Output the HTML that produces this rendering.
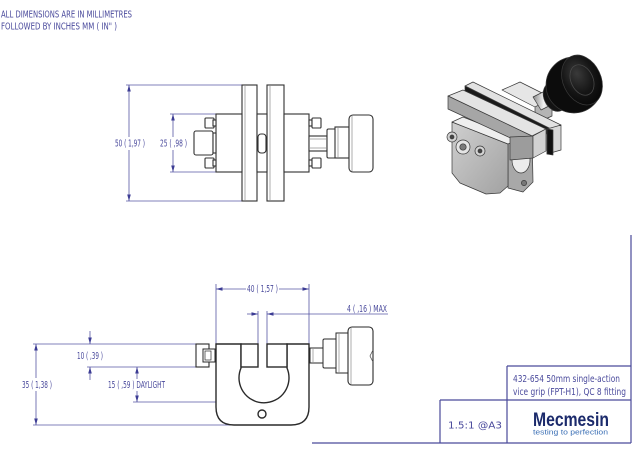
<!DOCTYPE html>
<html><head><meta charset="utf-8"><style>
html,body{margin:0;padding:0;background:#fff;}
svg{display:block;}
.d{stroke:#5656a4;stroke-width:0.8;fill:none}
.ar{fill:#3c3c94;stroke:none}
.t{font-family:"DejaVu Sans Condensed","Liberation Sans",sans-serif;fill:#4a4a9c;font-size:9.5px}
.o{stroke:#303030;stroke-width:1.1;fill:#fff}
.g{stroke:#9a9a9a;stroke-width:0.8;fill:none}
.tb{stroke:#4a4a9a;stroke-width:1.2;fill:none}
</style></head><body>
<svg width="640" height="460" viewBox="0 0 640 460" xmlns="http://www.w3.org/2000/svg">
<defs>
<radialGradient id="kn" cx="0.45" cy="0.35" r="0.7">
<stop offset="0" stop-color="#3a3a3a"/><stop offset="0.55" stop-color="#161616"/><stop offset="1" stop-color="#060606"/>
</radialGradient>
<linearGradient id="ff" x1="0" y1="0" x2="1" y2="1">
<stop offset="0" stop-color="#cfcfcf"/><stop offset="1" stop-color="#a2a2a2"/>
</linearGradient>
<linearGradient id="sh" x1="0" y1="0" x2="1" y2="0">
<stop offset="0" stop-color="#8a8a8a"/><stop offset="0.5" stop-color="#f4f4f4"/><stop offset="1" stop-color="#8a8a8a"/>
</linearGradient>
</defs>

<!-- header -->
<text class="t" x="1" y="17.5" font-size="10.5" textLength="131" lengthAdjust="spacingAndGlyphs" fill="#50509e">ALL DIMENSIONS ARE IN MILLIMETRES</text>
<text class="t" x="1" y="29.3" font-size="10.5" textLength="116" lengthAdjust="spacingAndGlyphs" fill="#50509e">FOLLOWED BY INCHES MM ( IN" )</text>

<!-- ============ TOP VIEW ============ -->
<line class="d" x1="126" y1="85" x2="242" y2="85"/>
<line class="d" x1="126" y1="201" x2="242" y2="201"/>
<line class="d" x1="170" y1="114" x2="216" y2="114"/>
<line class="d" x1="170" y1="172" x2="216" y2="172"/>
<line class="d" x1="129" y1="85" x2="129" y2="137"/>
<line class="d" x1="129" y1="150" x2="129" y2="201"/>
<polygon class="ar" points="129,85 127.2,91.5 130.8,91.5"/>
<polygon class="ar" points="129,201 127.2,194.5 130.8,194.5"/>
<text class="t" x="115" y="146.7" textLength="30" lengthAdjust="spacingAndGlyphs">50 ( 1,97 )</text>
<line class="d" x1="173" y1="114" x2="173" y2="137"/>
<line class="d" x1="173" y1="150" x2="173" y2="172"/>
<polygon class="ar" points="173,114 171.2,120.5 174.8,120.5"/>
<polygon class="ar" points="173,172 171.2,165.5 174.8,165.5"/>
<text class="t" x="160" y="146.7" textLength="27" lengthAdjust="spacingAndGlyphs">25 ( ,98 )</text>

<rect class="o" x="242" y="85" width="15" height="116"/>
<line class="g" x1="245" y1="86" x2="245" y2="200"/>
<rect class="o" x="267" y="85" width="17" height="116"/>
<line class="g" x1="270" y1="86" x2="270" y2="200"/>
<rect class="o" x="216" y="114" width="26" height="58"/>
<rect class="o" x="284" y="114" width="25" height="58"/>
<rect class="o" x="257" y="114" width="10" height="58"/>
<rect class="o" x="258" y="134" width="8" height="19" rx="3"/>
<rect class="o" x="194" y="131" width="19" height="24" rx="2"/>
<rect class="o" x="213" y="133" width="3" height="20"/>
<rect class="o" x="205" y="118" width="9" height="10" rx="1"/>
<rect class="o" x="213" y="120" width="3" height="6"/>
<rect class="o" x="205" y="158" width="9" height="10" rx="1"/>
<rect class="o" x="213" y="160" width="3" height="6"/>
<rect class="o" x="309" y="120" width="3" height="6"/>
<rect class="o" x="312" y="118" width="9" height="10" rx="1"/>
<rect class="o" x="309" y="160" width="3" height="6"/>
<rect class="o" x="312" y="158" width="9" height="10" rx="1"/>
<rect class="o" x="309" y="136" width="18" height="15"/>
<line class="g" x1="310" y1="139" x2="326" y2="139"/>
<line class="g" x1="310" y1="148" x2="326" y2="148"/>
<rect class="o" x="327" y="129" width="9" height="29" rx="1.5"/>
<rect class="o" x="335" y="127" width="14" height="31"/>
<line class="g" x1="338" y1="128" x2="338" y2="157"/>
<rect class="o" x="349" y="115" width="24" height="57" rx="4"/>
<line class="g" x1="352" y1="116" x2="352" y2="171"/>

<!-- ============ ISOMETRIC ============ -->
<g stroke="#3a3a3a" stroke-width="0.7" stroke-linejoin="round">
<!-- back block top -->
<polygon points="502,90 520,82 552,98 535,107" fill="#e6e6e6"/>
<polygon points="535,107 552,98 552,116 535,124" fill="#b4b4b4"/>
<!-- shaft -->
<polygon points="533,97 547,90 555,103 541,110" fill="url(#sh)"/>
<ellipse cx="554" cy="107" rx="3" ry="3.5" fill="#f2f2f2"/>
<!-- knob collar -->
<ellipse cx="555" cy="97" rx="11" ry="15" transform="rotate(-25 555 97)" fill="#131313"/>
<!-- knob body -->
<ellipse cx="574" cy="85" rx="28" ry="28" fill="#0c0c0c"/>
<!-- knob front face -->
<ellipse cx="582" cy="80" rx="19" ry="26" transform="rotate(-25 582 80)" fill="url(#kn)"/>
<ellipse cx="582" cy="80" rx="11" ry="16" transform="rotate(-25 582 80)" fill="none" stroke="#484848" stroke-width="0.8"/>
<!-- back jaw bar -->
<polygon points="465,86 473,82 561,125 553,130" fill="#e2e2e2"/>
<polygon points="465,86 553,130 553,137 465,95" fill="#1a1a1a"/>
<polygon points="547,129 561,125 561,150 547,154" fill="#d8d8d8"/>
<polygon points="547,129 553,130 553,155 547,154" fill="#111"/>
<!-- body right face -->
<polygon points="508,142 532,131 533,182 523,192 508,188" fill="#a8a8a8"/>
<ellipse cx="521" cy="160" rx="9" ry="13" fill="#ececec"/>
<circle cx="524" cy="183" r="2.6" fill="#777"/>
<!-- body front face -->
<polygon points="452,122 508,144 508,186 500,193 486,194 460,183 452,173" fill="url(#ff)"/>
<!-- body top face -->
<polygon points="452,122 463,117 519,139 508,144" fill="#efefef"/>
<!-- front jaw bar -->
<polygon points="448,96 463,90 546,129 532,136" fill="#e4e4e4"/>
<polygon points="448,96 532,136 532,148 448,109" fill="#a6a6a6"/>
<polygon points="510,137 533,136 533,158 510,160" fill="#9c9c9c"/>
<polygon points="533,136 546,129 546,151 533,158" fill="#d2d2d2"/>
<!-- bolts -->
<circle cx="452" cy="137" r="5" fill="#d2d2d2"/><circle cx="452" cy="137" r="2" fill="#444"/>
<circle cx="480" cy="151" r="5" fill="#d2d2d2"/><circle cx="480" cy="151" r="2" fill="#444"/>
<circle cx="463" cy="147" r="7" fill="#e4e4e4"/><circle cx="463" cy="147" r="3.2" fill="#7a7a7a"/>
</g>

<!-- ============ BOTTOM VIEW ============ -->
<line class="d" x1="216" y1="284" x2="216" y2="344"/>
<line class="d" x1="309" y1="284" x2="309" y2="344"/>
<line class="d" x1="258" y1="311" x2="258" y2="344"/>
<line class="d" x1="267" y1="311" x2="267" y2="344"/>
<line class="d" x1="33" y1="344" x2="196" y2="344"/>
<line class="d" x1="87" y1="367" x2="196" y2="367"/>
<line class="d" x1="133" y1="402" x2="258" y2="402"/>
<line class="d" x1="33" y1="425" x2="233" y2="425"/>
<line class="d" x1="216" y1="289" x2="246" y2="289"/>
<line class="d" x1="279" y1="289" x2="309" y2="289"/>
<polygon class="ar" points="216,289 222.5,287.2 222.5,290.8"/>
<polygon class="ar" points="309,289 302.5,287.2 302.5,290.8"/>
<text class="t" x="247" y="292" textLength="31" lengthAdjust="spacingAndGlyphs">40 ( 1,57 )</text>
<line class="d" x1="247" y1="314" x2="258" y2="314"/>
<line class="d" x1="267" y1="314" x2="388" y2="314"/>
<polygon class="ar" points="258,314 251.5,312.2 251.5,315.8"/>
<polygon class="ar" points="267,314 273.5,312.2 273.5,315.8"/>
<text class="t" x="347" y="312" textLength="40" lengthAdjust="spacingAndGlyphs">4 ( ,16 )  MAX</text>
<line class="d" x1="90" y1="331" x2="90" y2="344"/>
<line class="d" x1="90" y1="367" x2="90" y2="380"/>
<polygon class="ar" points="90,344 88.2,337.5 91.8,337.5"/>
<polygon class="ar" points="90,367 88.2,373.5 91.8,373.5"/>
<text class="t" x="77" y="359" textLength="26" lengthAdjust="spacingAndGlyphs">10 ( ,39 )</text>
<line class="d" x1="137" y1="367" x2="137" y2="379"/>
<line class="d" x1="137" y1="391" x2="137" y2="402"/>
<polygon class="ar" points="137,367 135.2,373.5 138.8,373.5"/>
<polygon class="ar" points="137,402 135.2,395.5 138.8,395.5"/>
<text class="t" x="108" y="388" textLength="57" lengthAdjust="spacingAndGlyphs">15 ( ,59 )  DAYLIGHT</text>
<line class="d" x1="36" y1="344" x2="36" y2="378"/>
<line class="d" x1="36" y1="391" x2="36" y2="425"/>
<polygon class="ar" points="36,344 34.2,350.5 37.8,350.5"/>
<polygon class="ar" points="36,425 34.2,418.5 37.8,418.5"/>
<text class="t" x="22" y="388" textLength="30" lengthAdjust="spacingAndGlyphs">35 ( 1,38 )</text>

<g stroke="#2a2a2a" stroke-width="1.4" fill="#fff">
<path d="M241,344 L216,344 L216,407 Q216,425 234,425 L291,425 Q309,425 309,407 L309,344 L287,344 L287,368 A25,25 0 1 1 241,368 Z"/>
<rect x="241" y="344" width="17" height="23"/>
<rect x="267" y="344" width="20" height="23"/>
<circle cx="262" cy="414" r="4"/>
<rect x="196" y="344" width="13" height="23" stroke-width="1.1"/>
<rect x="203" y="349" width="12" height="13" stroke-width="1"/>
<rect x="205" y="351" width="6" height="9" stroke-width="0.7"/>
<rect x="310" y="348" width="13" height="15" stroke-width="1"/>
<rect x="323" y="339" width="14" height="29" rx="1.5" stroke-width="1"/>
<rect x="336" y="333" width="13" height="40" stroke-width="1"/>
<rect x="348" y="327" width="25" height="58" rx="4" stroke-width="1.1"/>
</g>
<line class="g" x1="313" y1="349" x2="313" y2="362"/>
<line class="g" x1="339" y1="334" x2="339" y2="372"/>
<line class="g" x1="351" y1="328" x2="351" y2="384"/>
<polyline points="373,350 370,356 373,362" fill="none" stroke="#555" stroke-width="0.8"/>

<!-- ============ TITLE BLOCK ============ -->
<line class="tb" x1="631" y1="235" x2="631" y2="443"/>
<line class="tb" x1="507" y1="366" x2="631" y2="366"/>
<line class="tb" x1="440" y1="400" x2="631" y2="400"/>
<line class="tb" x1="507" y1="366" x2="507" y2="443"/>
<line class="tb" x1="440" y1="400" x2="440" y2="443"/>
<line class="tb" x1="312" y1="443" x2="631" y2="443"/>
<text class="t" x="513" y="382" font-size="10.5" textLength="107" lengthAdjust="spacingAndGlyphs">432-654 50mm single-action</text>
<text class="t" x="513" y="395" font-size="10.5" textLength="113" lengthAdjust="spacingAndGlyphs">vice grip (FPT-H1), QC 8 fitting</text>
<text class="t" x="448" y="428.3" font-size="15" textLength="54" lengthAdjust="spacingAndGlyphs">1.5:1  @A3</text>
<text x="533" y="426" font-family="'Liberation Sans',sans-serif" font-weight="bold" font-size="19" fill="#1b2a6b" textLength="76" lengthAdjust="spacingAndGlyphs">Mecmesin</text>
<text x="533" y="434.5" font-family="'Liberation Sans',sans-serif" font-size="7.5" fill="#3b6fb5" textLength="75" lengthAdjust="spacingAndGlyphs">testing to perfection</text>
</svg>
</body></html>
